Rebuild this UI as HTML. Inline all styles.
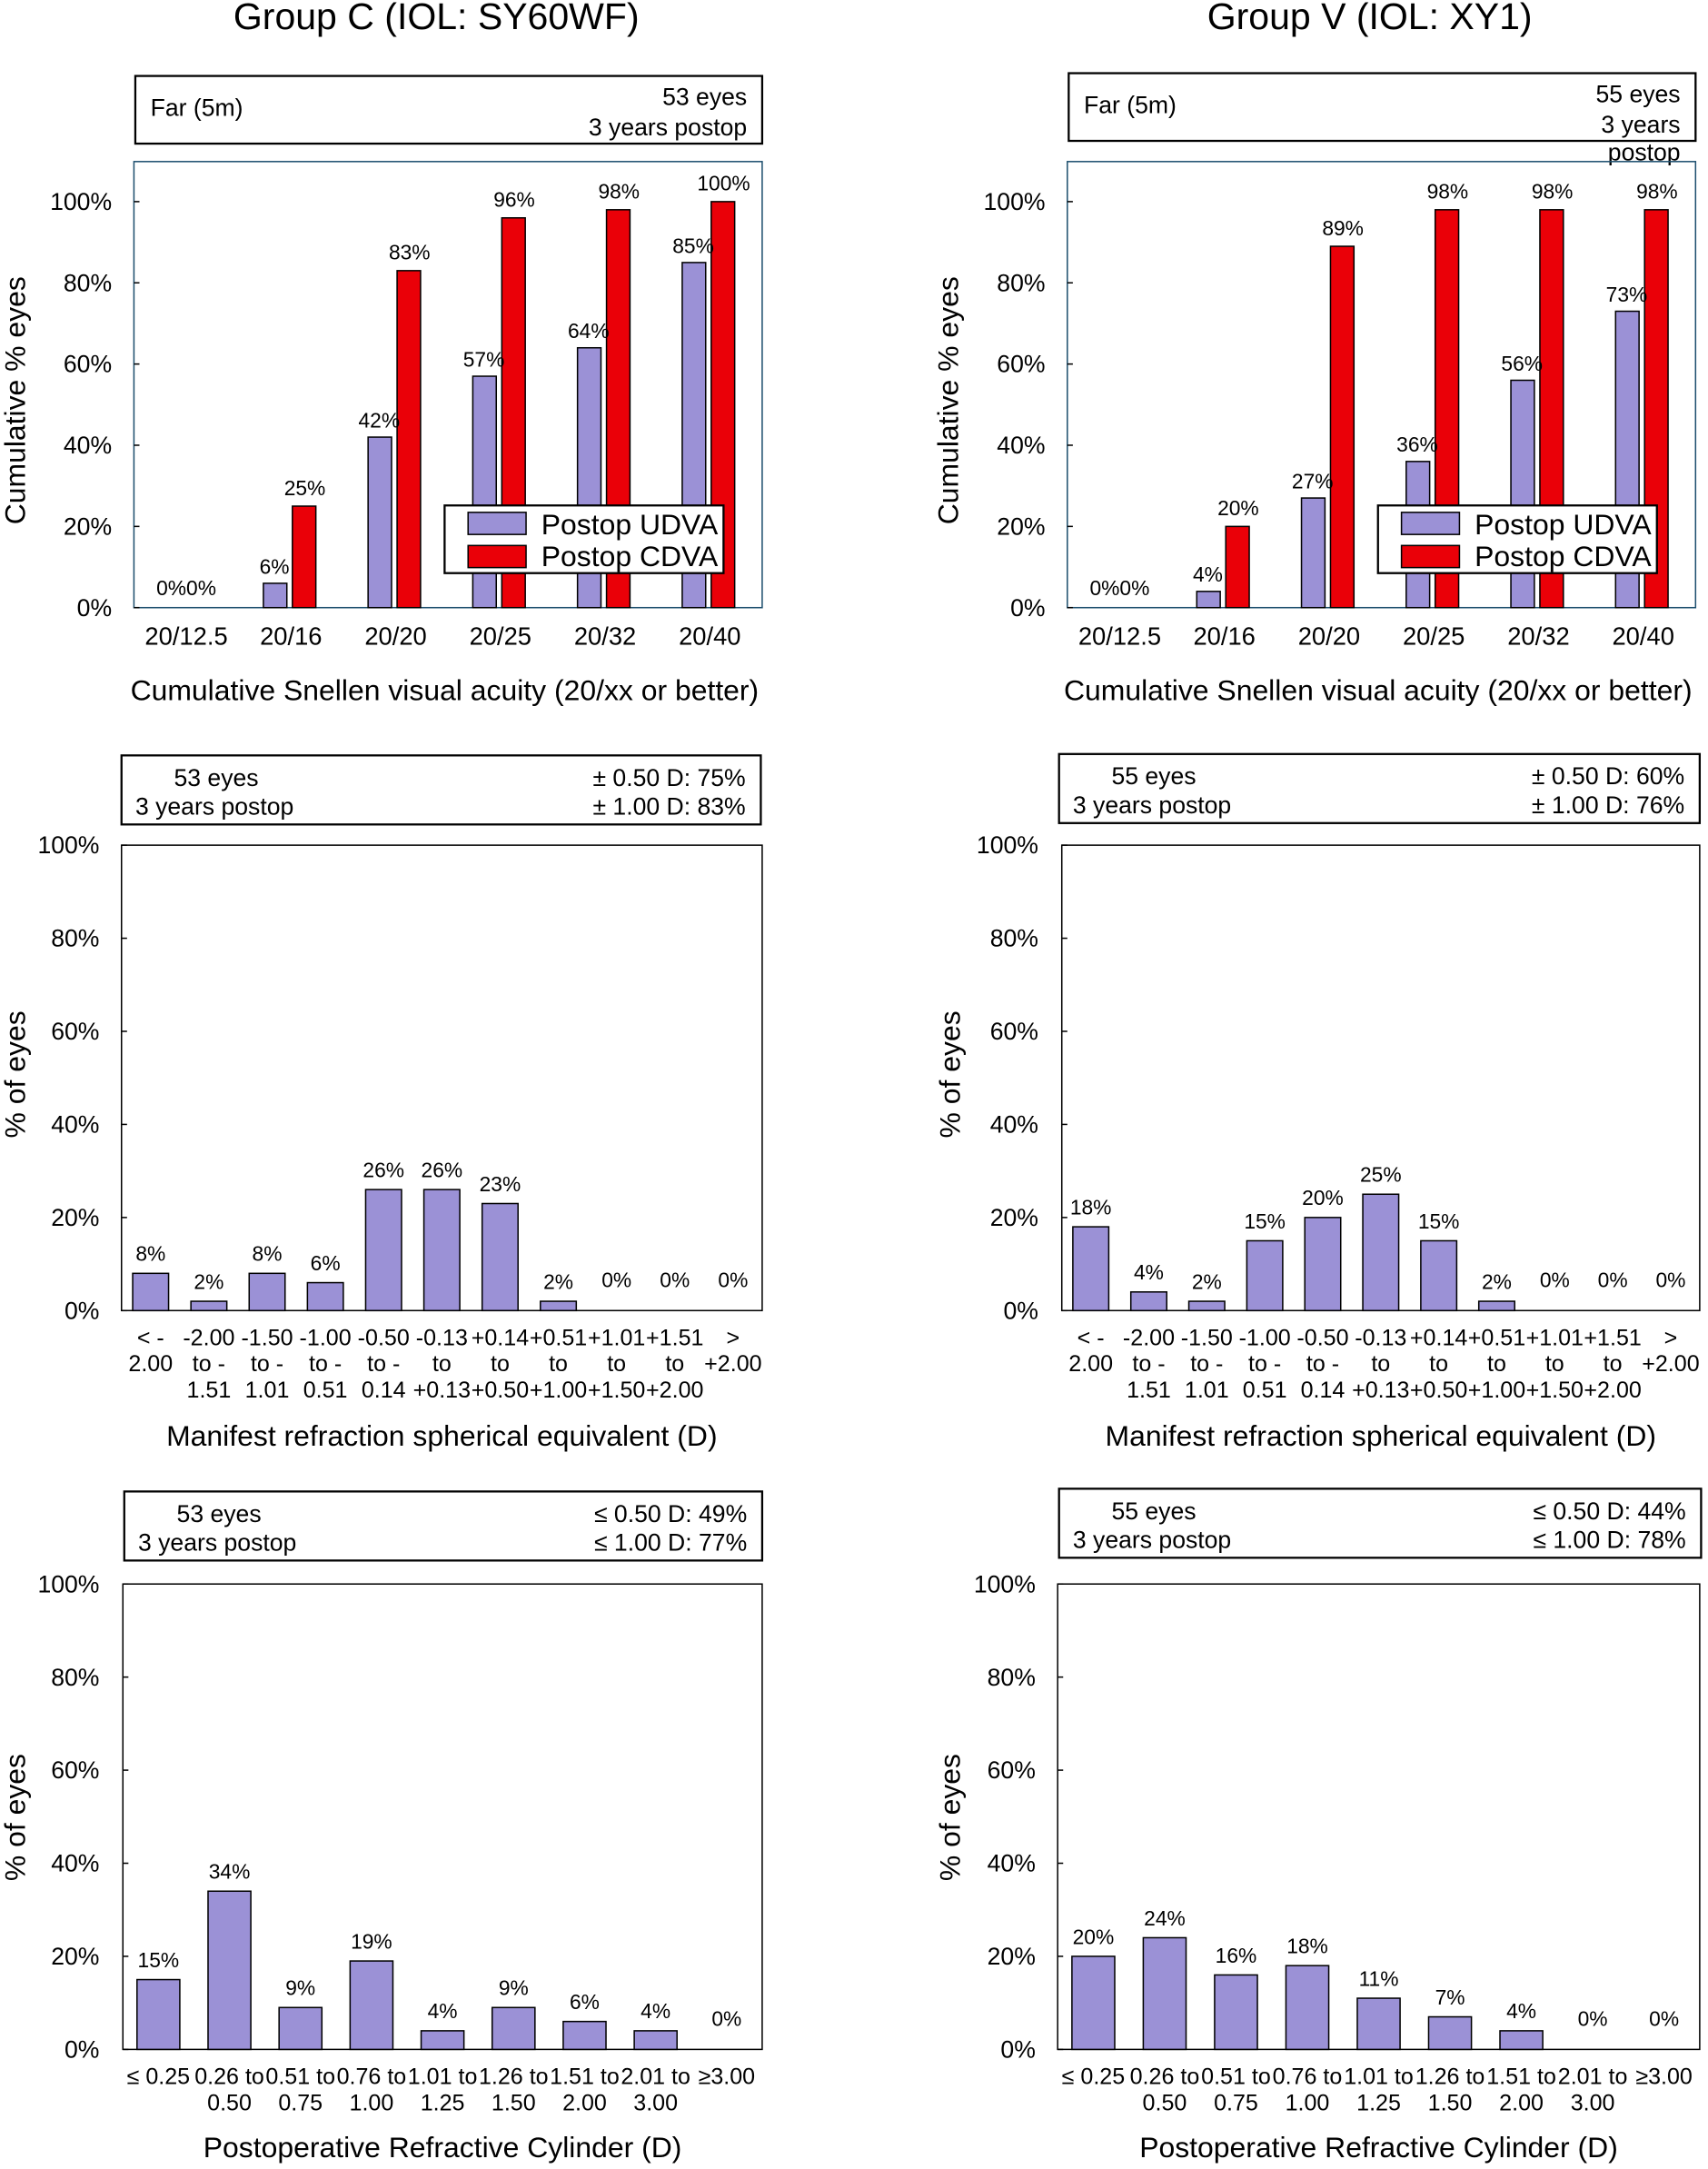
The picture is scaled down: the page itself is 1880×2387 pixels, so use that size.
<!DOCTYPE html>
<html><head><meta charset="utf-8"><style>html,body{margin:0;padding:0;background:#fff}svg{display:block}text{font-family:"Liberation Sans",Arial,sans-serif;fill:#000}</style></head>
<body>
<svg id="s" width="1880" height="2387" viewBox="0 0 1237 1570.6" xmlns="http://www.w3.org/2000/svg"></svg>
<script>
const vaCategories = ["20/12.5","20/16","20/20","20/25","20/32","20/40"];
const vaUdvaC = [0,6,42,57,64,85];
const vaCdvaC = [0,25,83,96,98,100];
const vaUdvaV = [0,4,27,36,56,73];
const vaCdvaV = [0,20,89,98,98,98];
const yTicks = ["0%","20%","40%","60%","80%","100%"];
const seCategories = [["< -","2.00"],["-2.00","to -","1.51"],["-1.50","to -","1.01"],["-1.00","to -","0.51"],["-0.50","to -","0.14"],["-0.13","to","+0.13"],["+0.14","to","+0.50"],["+0.51","to","+1.00"],["+1.01","to","+1.50"],["+1.51","to","+2.00"],[">","+2.00"]];
const seValuesC = [8,2,8,6,26,26,23,2,0,0,0];
const seValuesV = [18,4,2,15,20,25,15,2,0,0,0];
const cylCategories = [["≤ 0.25"],["0.26 to","0.50"],["0.51 to","0.75"],["0.76 to","1.00"],["1.01 to","1.25"],["1.26 to","1.50"],["1.51 to","2.00"],["2.01 to","3.00"],["≥3.00"]];
const cylValuesC = [15,34,9,19,4,9,6,4,0];
const cylValuesV = [20,24,16,18,11,7,4,0,0];

const S = document.getElementById('s');
const NS = 'http://www.w3.org/2000/svg';
function el(tag, attrs, parent){const e=document.createElementNS(NS,tag);for(const k in attrs)e.setAttribute(k,attrs[k]);(parent||S).appendChild(e);return e;}
function txt(x,y,s,size,anchor,parent){const t=el('text',{x:x,y:y,'font-size':size,'text-anchor':anchor||'middle'},parent);t.textContent=s;return t;}
const PURPLE='#9b91d6', RED='#ea0008';

function axes(g,L,R,T,B,tickX,border){
  el('rect',{x:L,y:T,width:R-L,height:B-T,fill:'none',stroke:border||'#000','stroke-width':1},g);
  const ys=v=>B-(B-T)*v/100;
  yTicks.forEach((lab,i)=>{const y=ys(i*20);
    el('line',{x1:L,x2:L+4,y1:y,y2:y,stroke:'#000','stroke-width':1},g);
    const t=txt(tickX,y+6,lab,17.5,'end',g);
    
    
  });
  return ys;
}
function ytitle(g,x,y,s){const t=txt(0,0,s,21,'middle',g);t.setAttribute('transform',`translate(${x},${y}) rotate(-90)`);
  
  }

function vaChart(ox,title,eyes,udva,cdva,wrap){
  const g=el('g',{});
  
  
  const tt=txt(ox+219,21,title,27,'middle',g);
  
  
  const by=wrap?53:55;
  const bx=el('rect',{x:ox+1,y:by,width:454,height:49,fill:'#fff',stroke:'#000','stroke-width':1.5},g);
  
  
  txt(ox+12,by+29,'Far (5m)',17.5,'start',g);
  txt(ox+444,by+21,eyes,17.5,'end',g);
  if(wrap){txt(ox+444,by+43,'3 years',17.5,'end',g);txt(ox+444,by+63,'postop',17.5,'end',g);}
  else txt(ox+444,by+43,'3 years postop',17.5,'end',g);
  const L=ox,R=ox+455,T=117,B=440;
  const ys=v=>B-294*v/100;
  el('rect',{x:L,y:T,width:R-L,height:B-T,fill:'none',stroke:'#1d4f6e','stroke-width':1},g);
  yTicks.forEach((lab,i)=>{const y=ys(i*20);el('line',{x1:L,x2:L+4,y1:y,y2:y,stroke:'#000'},g);
    const t=txt(L-16,y+6,lab,17.5,'end',g);
    
    });
  const slot=(R-L)/vaCategories.length;
  vaCategories.forEach((c,i)=>{
    const cx=L+slot*(i+0.5);
    const lt=txt(cx,467,c,18,'middle',g);
    
    
    if(udva[i]>0){const b=el('rect',{x:cx-20,y:ys(udva[i]),width:17,height:B-ys(udva[i]),fill:PURPLE,stroke:'#000','stroke-width':1},g);
      
      }
    if(cdva[i]>0){const b=el('rect',{x:cx+1,y:ys(cdva[i]),width:17,height:B-ys(cdva[i]),fill:RED,stroke:'#000','stroke-width':1},g);
      
      }
    if(udva[i]===0&&cdva[i]===0){txt(cx,431,'0%0%',15,'middle',g);}
    else{txt(cx-12,ys(udva[i])-7,udva[i]+'%',15,'middle',g);txt(cx+10,ys(cdva[i])-8,cdva[i]+'%',15,'middle',g);}
  });
  const lg=el('g',{},g);
  
  
  el('rect',{x:ox+225,y:366,width:202,height:49,fill:'#fff',stroke:'#000','stroke-width':1.5},lg);
  el('rect',{x:ox+242,y:371,width:42,height:16,fill:PURPLE,stroke:'#000'},lg);
  el('rect',{x:ox+242,y:395,width:42,height:16,fill:RED,stroke:'#000'},lg);
  txt(ox+295,387,'Postop UDVA',21,'start',lg);
  txt(ox+295,410,'Postop CDVA',21,'start',lg);
  const xt=txt(ox+225,507,'Cumulative Snellen visual acuity (20/xx or better)',21,'middle',g);
  
  
  ytitle(g,ox-79,290,'Cumulative % eyes');
}

function histChart(L,R,T,B,boxL,boxR,boxT,eyes,r1,r2,cats,vals,barW,lineH,labY,xtitle,xtY,tickX,ytx,ytY,name){
  const g=el('g',{});
  
  
  const bx=el('rect',{x:boxL,y:boxT,width:boxR-boxL,height:50,fill:'#fff',stroke:'#000','stroke-width':1.5},g);
  
  
  txt(boxL+38,boxT+22,eyes,17.5,'start',g);
  txt(boxL+10,boxT+43,'3 years postop',17.5,'start',g);
  txt(boxR-11,boxT+22,r1,17.5,'end',g);
  txt(boxR-11,boxT+43,r2,17.5,'end',g);
  const ys=axes(g,L,R,T,B,tickX);
  const slot=(R-L)/cats.length;
  cats.forEach((c,i)=>{
    const cx=L+slot*(i+0.5);
    if(vals[i]>0){const b=el('rect',{x:cx-barW/2,y:ys(vals[i]),width:barW,height:B-ys(vals[i]),fill:PURPLE,stroke:'#000','stroke-width':1},g);
      
      }
    txt(cx,(vals[i]>0?ys(vals[i]):B-8)-9,vals[i]+'%',15,'middle',g);
    c.forEach((line,j)=>{const t=txt(cx,labY+j*lineH,line,16.5,'middle',g);
      
      });
  });
  const xt=txt((L+R)/2,xtY,xtitle,21,'middle',g);
  
  
  ytitle(g,ytx,ytY,'% of eyes');
}

vaChart(97,'Group C (IOL: SY60WF)','53 eyes',vaUdvaC,vaCdvaC,false);
vaChart(773,'Group V (IOL: XY1)','55 eyes',vaUdvaV,vaCdvaV,true);
histChart(88,552,612,949,88,551,547,'53 eyes','± 0.50 D: 75%','± 1.00 D: 83%',seCategories,seValuesC,26,19,974,'Manifest refraction spherical equivalent (D)',1047,72,18,778,'se-chart-c');
histChart(769,1231,612,949,767,1231,546,'55 eyes','± 0.50 D: 60%','± 1.00 D: 76%',seCategories,seValuesV,26,19,974,'Manifest refraction spherical equivalent (D)',1047,752,695,778,'se-chart-v');
histChart(89,552,1147,1484,90,552,1080,'53 eyes','≤ 0.50 D: 49%','≤ 1.00 D: 77%',cylCategories,cylValuesC,31,19,1509,'Postoperative Refractive Cylinder (D)',1562,72,18,1316,'cyl-chart-c');
histChart(766,1231,1147,1484,767,1232,1078,'55 eyes','≤ 0.50 D: 44%','≤ 1.00 D: 78%',cylCategories,cylValuesV,31,19,1509,'Postoperative Refractive Cylinder (D)',1562,750,695,1316,'cyl-chart-v');
</script>
</body></html>
